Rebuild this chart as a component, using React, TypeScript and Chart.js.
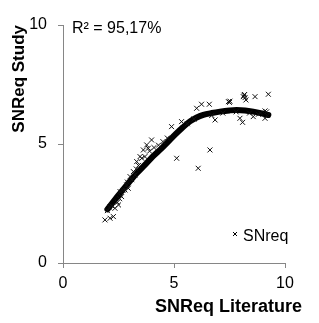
import React, { useEffect, useRef } from 'react';
import { Chart, registerables } from 'chart.js';

Chart.register(...registerables);

const FONT = '"Liberation Sans", Arial, Helvetica, sans-serif';

const xTicks = [0, 5, 10];
const yTicks = [0, 5, 10];

const seriesName = 'SNreq';
const r2Label = 'R² = 95,17%';
const xTitle = 'SNReq Literature';
const yTitle = 'SNReq Study';

// observed points (SNreq Literature vs SNreq Study)
const snreqX = [
  1.89, 2.12, 2.27, 2.0, 2.1, 2.2, 2.34, 2.45, 2.5, 2.55, 2.64, 2.57, 2.7, 2.79, 2.87, 2.94, 2.9, 3.02,
  3.1, 3.17, 3.24, 3.32, 3.3, 3.4, 3.47, 3.55, 3.62, 3.69, 3.77, 3.84, 3.9, 3.99, 4.1, 4.3, 4.5, 4.7,
  4.89, 5.12, 5.34, 5.6, 5.9, 6.02, 6.24, 6.59, 6.85, 6.62, 6.09, 7.2, 7.45, 7.5, 7.52, 7.97, 8.09,
  8.12, 8.15, 8.2, 8.24, 8.18, 8.57, 8.65, 8.9, 9.1, 9.17, 9.1, 9.2, 9.25, 6.7, 7.8, 8.4, 8.8,
];
const snreqY = [
  1.81, 1.88, 1.95, 2.2, 2.35, 2.4, 2.3, 2.55, 2.44, 2.7, 2.79, 3.0, 3.05, 3.07, 3.28, 3.14, 3.4, 3.63,
  3.5, 3.84, 3.7, 4.26, 3.95, 4.1, 4.47, 4.4, 4.75, 4.47, 4.96, 4.82, 4.7, 5.17, 4.85, 4.95, 5.1, 5.25,
  5.73, 4.4, 5.94, 5.85, 6.05, 6.5, 6.67, 6.67, 6.01, 4.75, 3.98, 6.3, 6.78, 6.75, 6.8, 6.08, 5.91,
  6.99, 7.05, 6.95, 6.85, 7.08, 6.15, 6.99, 6.3, 6.39, 6.35, 6.08, 6.2, 7.09, 6.2, 6.35, 6.3, 6.25,
];

// fitted curve
const fitX = [2.0, 2.5, 2.94, 3.3, 3.69, 4.05, 4.44, 4.95, 5.4, 5.72, 6.0, 6.32, 6.7, 7.07, 7.5, 7.82, 8.2, 8.57, 8.9, 9.25];
const fitY = [2.25, 2.85, 3.35, 3.75, 4.12, 4.48, 4.82, 5.3, 5.7, 5.95, 6.1, 6.22, 6.3, 6.36, 6.41, 6.43, 6.41, 6.36, 6.3, 6.22];

const AXIS = '#868686';

const textPlugin = {
  id: 'texts',
  afterDraw(chart: any) {
    const { ctx, chartArea } = chart;
    ctx.save();
    ctx.fillStyle = '#000';
    ctx.textAlign = 'left';
    ctx.textBaseline = 'alphabetic';
    ctx.font = `16px ${FONT}`;
    ctx.fillText(r2Label, chartArea.left + 9, chartArea.top + 8);

    // legend
    const label = chart.data.datasets[0].label;
    const mx = chartArea.right - 50;
    const my = chartArea.bottom - 29;
    ctx.strokeStyle = '#000';
    ctx.lineWidth = 1;
    ctx.beginPath();
    ctx.moveTo(mx - 2, my - 2);
    ctx.lineTo(mx + 2, my + 2);
    ctx.moveTo(mx + 2, my - 2);
    ctx.lineTo(mx - 2, my + 2);
    ctx.stroke();
    ctx.font = `16px ${FONT}`;
    ctx.fillText(label, chartArea.right - 42, chartArea.bottom - 22);

    // x axis title
    ctx.font = `bold 18px ${FONT}`;
    ctx.textAlign = 'right';
    ctx.fillText(xTitle, chartArea.right + 17, chartArea.bottom + 49);
    ctx.restore();
  },
};

export default function App() {
  const ref = useRef<HTMLCanvasElement>(null);

  useEffect(() => {
    document.body.style.margin = '0';
    const canvas = ref.current;
    if (!canvas) return;
    const chart = new Chart(canvas, {
      type: 'scatter',
      data: {
        datasets: [
          {
            label: seriesName,
            data: snreqX.map((x, i) => ({ x, y: snreqY[i] })),
            pointStyle: 'crossRot',
            pointRadius: 3.5,
            pointBorderWidth: 1,
            borderColor: '#111',
            backgroundColor: '#111',
            showLine: false,
          },
          {
            label: 'fit',
            data: fitX.map((x, i) => ({ x, y: fitY[i] })),
            showLine: true,
            pointRadius: 0,
            borderColor: '#000',
            borderWidth: 6,
            borderCapStyle: 'round',
            cubicInterpolationMode: 'monotone',
          },
        ],
      },
      options: {
        animation: false,
        responsive: true,
        maintainAspectRatio: false,
        layout: { padding: { top: 25, right: 34, left: 0, bottom: 0 } },
        plugins: {
          legend: { display: false },
          tooltip: { enabled: false },
        },
        scales: {
          x: {
            type: 'linear',
            min: 0,
            max: 10,
            afterBuildTicks: (s: any) => {
              s.ticks = xTicks.map((v) => ({ value: v }));
            },
            afterFit: (s: any) => {
              s.height = 60;
            },
            grid: { display: true, drawOnChartArea: false, drawTicks: true, tickLength: 5, color: AXIS },
            border: { display: true, color: AXIS, width: 1 },
            ticks: { color: '#000', padding: 6, font: { family: FONT, size: 16 }, maxRotation: 0 },
          },
          y: {
            type: 'linear',
            min: 0,
            max: 10,
            afterBuildTicks: (s: any) => {
              s.ticks = yTicks.map((v) => ({ value: v }));
            },
            afterFit: (s: any) => {
              s.width = 63;
            },
            grid: { display: true, drawOnChartArea: false, drawTicks: true, tickLength: 5, color: AXIS },
            border: { display: true, color: AXIS, width: 1 },
            ticks: { color: '#000', padding: 11, font: { family: FONT, size: 16 } },
            title: {
              display: true,
              text: yTitle,
              align: 'end',
              color: '#000',
              font: { family: FONT, size: 17, weight: 'bold' },
              padding: { top: 9, bottom: 0 },
            },
          },
        },
      },
      plugins: [textPlugin],
    });
    return () => chart.destroy();
  }, []);

  return (
    <div style={{ width: 319, height: 323, position: 'relative' }}>
      <canvas ref={ref} />
    </div>
  );
}
